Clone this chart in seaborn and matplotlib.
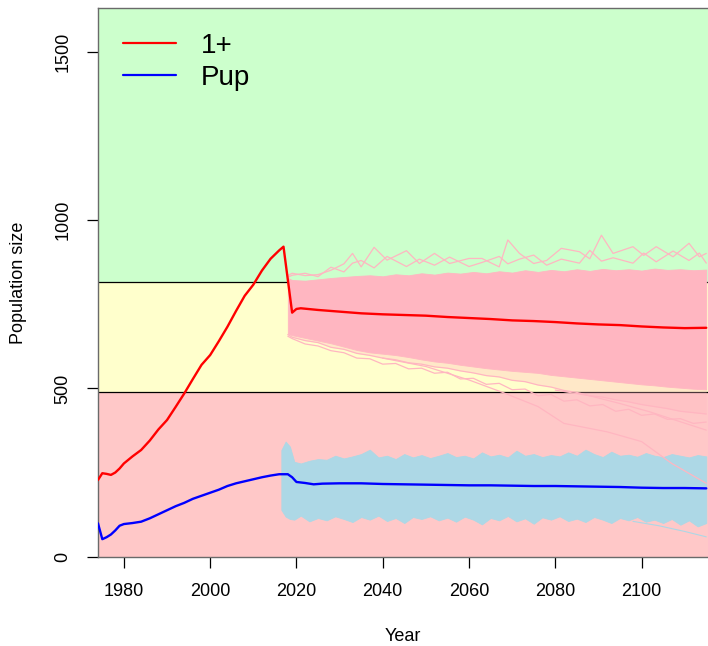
import matplotlib
matplotlib.use('Agg')
import matplotlib.pyplot as plt
from matplotlib.lines import Line2D
import seaborn as sns
import pandas as pd

# threshold bands
lower_thr = 489
upper_thr = 815

# mean trajectories (observed + projected)
onep_years = [1974, 1975, 1976, 1977, 1978, 1979, 1980, 1982, 1984, 1986, 1988, 1990, 1992, 1994,
              1996, 1998, 2000, 2002, 2004, 2006, 2008, 2010, 2012, 2014, 2016, 2017, 2019, 2020,
              2021, 2025, 2030, 2035, 2040, 2045, 2050, 2055, 2060, 2065, 2070, 2075, 2080, 2085,
              2090, 2095, 2100, 2105, 2110, 2115]
onep_mean = [228, 248, 246, 243, 250, 262, 277, 298, 317, 345, 378, 406, 445, 485,
             528, 570, 599, 640, 683, 730, 775, 808, 850, 885, 910, 921, 725, 736,
             738, 733, 728, 723, 720, 718, 716, 712, 709, 706, 702, 700, 697, 693,
             690, 688, 684, 681, 679, 680]

pup_years = [1974, 1975, 1976, 1977, 1978, 1979, 1980, 1982, 1984, 1986, 1988, 1990, 1992, 1994,
             1996, 1998, 2000, 2002, 2004, 2006, 2008, 2010, 2012, 2014, 2016, 2018, 2019, 2020,
             2022, 2024, 2026, 2030, 2035, 2040, 2045, 2050, 2055, 2060, 2065, 2070, 2075, 2080,
             2085, 2090, 2095, 2100, 2105, 2110, 2115]
pup_mean = [99, 52, 58, 66, 78, 92, 97, 100, 104, 114, 126, 138, 150, 160,
            172, 181, 190, 199, 210, 218, 224, 230, 236, 241, 245, 245, 236, 222,
            219, 215, 217, 218, 218, 216, 215, 214, 213, 212, 212, 211, 210, 210,
            209, 208, 207, 205, 204, 204, 203]

# simulated 1+ runs: envelope of the bulk of runs
sim_years = [2018, 2019, 2022, 2025, 2028, 2031, 2034, 2037, 2040, 2043, 2046, 2049, 2052, 2055,
             2058, 2061, 2064, 2067, 2070, 2073, 2076, 2079, 2082, 2085, 2088, 2091, 2094, 2097,
             2100, 2103, 2106, 2109, 2112, 2115]
onep_hi = [828, 822, 820, 824, 828, 831, 834, 836, 833, 839, 836, 842, 838, 844,
           841, 846, 842, 848, 844, 851, 846, 852, 848, 854, 849, 855, 851, 854,
           850, 856, 852, 854, 851, 853]
onep_lo = [662, 658, 650, 642, 634, 624, 614, 607, 603, 599, 593, 586, 580, 576,
           570, 565, 560, 556, 552, 549, 546, 540, 536, 532, 528, 524, 520, 516,
           512, 509, 505, 502, 499, 497]
onep_lo_faint = [655, 648, 632, 626, 612, 606, 590, 588, 572, 574, 558, 560, 545, 548,
                 528, 530, 512, 515, 496, 498, 478, 482, 462, 466, 448, 452, 432, 438,
                 420, 424, 408, 410, 396, 400]
onep_lo_faint2 = [660, 652, 642, 636, 622, 616, 604, 598, 590, 585, 576, 572, 564, 560,
                  552, 546, 538, 534, 524, 520, 510, 504, 494, 488, 478, 474, 466, 460,
                  452, 446, 440, 432, 428, 424]

# highest simulated runs (faint spikes above the bulk)
max_years = [2018, 2019, 2022, 2025, 2028, 2031, 2033, 2035, 2038, 2041, 2045.5, 2048.5, 2052,
             2055.5, 2060, 2063, 2067, 2069, 2071.7, 2075, 2078, 2081.4, 2085.6, 2088, 2090.7,
             2093.4, 2098, 2100.5, 2103.4, 2107.3, 2111, 2113.4, 2115]
onep_max = [835, 842, 835, 838, 851, 870, 901, 861, 919, 881, 909, 871, 901,
            871, 886, 886, 861, 941, 901, 871, 880, 916, 906, 885, 955,
            901, 921, 895, 921, 891, 931, 891, 901]
onep_max2 = [830, 836, 842, 832, 860, 846, 872, 880, 858, 892, 862, 884, 866,
             890, 862, 874, 892, 870, 884, 896, 866, 884, 872, 910, 878,
             888, 872, 902, 876, 908, 880, 902, 872]

# two runs that drift down well below the bulk
decline_years = [2040, 2050, 2060, 2068, 2076, 2082, 2092, 2100, 2107, 2115]
decline_a = [590, 565, 525, 487, 446, 396, 371, 342, 277, 218]
decline_b_years = [2080, 2088, 2095, 2102, 2108, 2115]
decline_b = [495, 478, 455, 430, 405, 376]

# simulated pup runs: envelope
pup_sim_years = [2016.5, 2017.5, 2018.5, 2019.5, 2021, 2023, 2025, 2027, 2029, 2031, 2033, 2035,
                 2037, 2039, 2041, 2043, 2045, 2047, 2049, 2051, 2053, 2055, 2057, 2059, 2061,
                 2063, 2065, 2067, 2069, 2071, 2073, 2075, 2077, 2079, 2081, 2083, 2085, 2087,
                 2089, 2091, 2093, 2095, 2097, 2099, 2101, 2103, 2105, 2107, 2109, 2111, 2113,
                 2115]
pup_hi = [317, 342, 327, 282, 277, 285, 290, 288, 300, 292, 298, 305,
          318, 295, 300, 290, 305, 295, 302, 293, 300, 308, 296, 300, 292,
          310, 298, 303, 295, 315, 300, 305, 296, 302, 298, 310, 300, 318,
          305, 296, 312, 300, 303, 297, 308, 300, 296, 305, 300, 295, 302,
          298]
pup_lo = [139, 119, 112, 110, 122, 105, 115, 108, 120, 112, 103, 118,
          110, 122, 106, 115, 100, 118, 112, 120, 108, 116, 104, 119, 110,
          96, 115, 108, 121, 105, 114, 98, 117, 110, 120, 106, 113, 103,
          118, 110, 100, 115, 108, 118, 104, 110, 100, 112, 95, 108, 90,
          100]
pup_tail_years = [2098, 2104, 2110, 2115]
pup_tail = [105, 92, 75, 59]

onep_df = pd.DataFrame({'Year': onep_years, 'N': onep_mean})
pup_df = pd.DataFrame({'Year': pup_years, 'N': pup_mean})

sns.set_style('white')
plt.rcParams['font.family'] = ['Liberation Sans', 'DejaVu Sans']
plt.rcParams['text.color'] = 'black'
plt.rcParams['axes.labelcolor'] = 'black'
plt.rcParams['xtick.color'] = 'black'
plt.rcParams['ytick.color'] = 'black'

fig = plt.figure(figsize=(7.08, 6.46), dpi=100)
ax = fig.add_axes([98 / 708, 1 - 556.7 / 646, 610 / 708, 548.7 / 646])

ax.axhspan(0, lower_thr, color='#FFC8C8', lw=0, zorder=0)
ax.axhspan(lower_thr, upper_thr, color='#FFFFCC', lw=0, zorder=0)
ax.axhspan(upper_thr, 1700, color='#CCFFCC', lw=0, zorder=0)
ax.axhline(lower_thr, color='black', lw=0.9, zorder=1)
ax.axhline(upper_thr, color='black', lw=0.9, zorder=1)

# pup simulation cloud
ax.fill_between(pup_sim_years, pup_lo, pup_hi, color='lightblue', lw=0.6, ec='lightblue', zorder=2)
ax.plot(pup_tail_years, pup_tail, color='lightblue', lw=0.8, zorder=2)

# 1+ simulation cloud
ax.fill_between(sim_years, onep_lo_faint2, onep_lo, color='lightpink', alpha=0.3, lw=0, zorder=3)
for xs, ys in [(max_years, onep_max), (max_years, onep_max2), (sim_years, onep_lo_faint),
               (sim_years, onep_lo_faint2), (decline_years, decline_a),
               (decline_b_years, decline_b)]:
    ax.plot(xs, ys, color='lightpink', lw=0.9, zorder=3)
ax.fill_between(sim_years, onep_lo, onep_hi, color='lightpink', lw=0.6, ec='lightpink', zorder=3)

sns.lineplot(data=onep_df, x='Year', y='N', color='red', lw=1.7, estimator=None, ax=ax, zorder=5)
sns.lineplot(data=pup_df, x='Year', y='N', color='blue', lw=1.7, estimator=None, ax=ax, zorder=5)

ax.set_xlim(1974, 2115.4)
ax.set_ylim(0, 1630)
ax.set_xticks([1980, 2000, 2020, 2040, 2060, 2080, 2100])
ax.set_yticks([0, 500, 1000, 1500])
ax.tick_params(axis='both', direction='out', length=8, width=0.9, color='black',
               labelsize=13, pad=11, bottom=True, left=True, labelcolor='black')
for lab in ax.get_yticklabels():
    lab.set_rotation(90)
    lab.set_va('center')
for side in ['top', 'left', 'bottom']:
    ax.spines[side].set_color('#6a6a6a')
    ax.spines[side].set_linewidth(1.0)
ax.spines['right'].set_visible(False)

ax.set_xlabel('Year', fontsize=13, labelpad=20, color='black')
ax.set_ylabel('Population size', fontsize=13, labelpad=20, color='black')

handles = [Line2D([], [], color='red', lw=1.6), Line2D([], [], color='blue', lw=1.6)]
ax.legend(handles, ['1+', 'Pup'], loc='upper left', bbox_to_anchor=(0.0, 1.0), frameon=False,
          fontsize=20, handlelength=1.9, handletextpad=0.9, labelspacing=0.2, labelcolor='black')

fig.savefig('out.png', dpi=100)
